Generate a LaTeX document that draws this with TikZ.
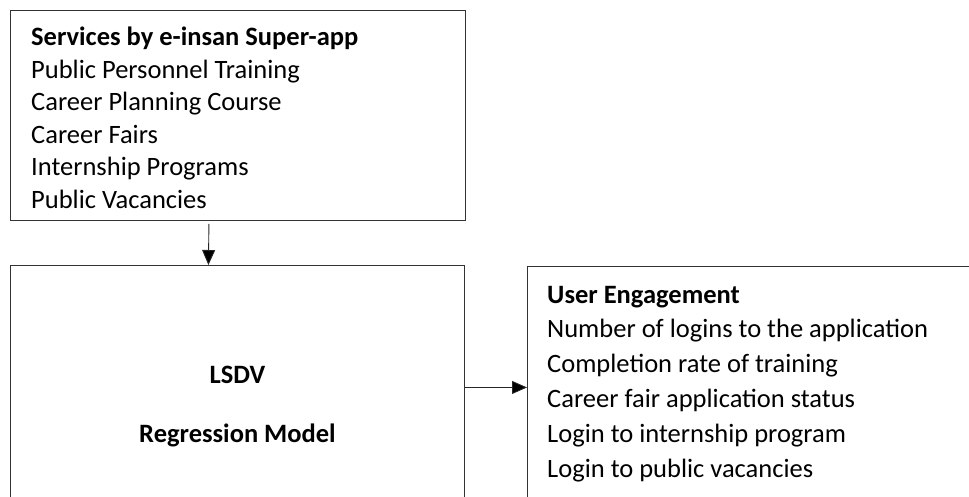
\documentclass[tikz,border=0pt]{standalone}
\usepackage{fontspec}
\setmainfont{Carlito}
\usetikzlibrary{arrows.meta,calc}

\tikzset{
  box/.style={draw=black!80, line width=0.9pt, rectangle, inner sep=0pt, anchor=north west},
  item/.style={inner sep=0pt, anchor=base west, font=\fontsize{26.5}{30}\selectfont},
  head/.style={item, font=\fontsize{26.5}{30}\selectfont\bfseries},
  link/.style={draw=black!85, line width=0.9pt, -{Triangle[length=15pt,width=13pt,fill=black]}}
}

\begin{document}
\begin{tikzpicture}[x=1pt,y=1pt]
  \useasboundingbox (0,0) rectangle (969,-497);
  \clip (0,0) rectangle (969,-497);

  % Boxes
  \node[box, minimum width=455pt, minimum height=210pt] (services) at (10,-10) {};
  \node[box, minimum width=454pt, minimum height=244pt] (model) at (10,-265) {};
  \node[box, minimum width=470pt, minimum height=240pt] (engage) at (527,-266) {};

  % Services of the super-app
  \node[head] (svchead) at ($(services.north west)+(21,-36)$) {Services by e-insan Super-app};
  \foreach \txt [count=\i] in {Public Personnel Training, Career Planning Course, Career Fairs, Internship Programs, Public Vacancies}
    \node[item] (svc\i) at ($(svchead.base west)+(0,{-32.4*\i})$) {\txt};

  % Model
  \node[head, anchor=base] (lsdv) at ($(model.center)+(0,4)$) {LSDV};
  \node[head, anchor=base] (regr) at ($(model.center)+(0,-55)$) {Regression Model};

  % Engagement measures
  \node[head] (enghead) at ($(engage.north west)+(20,-37)$) {User Engagement};
  \foreach \txt [count=\i] in {Number of logins to the application, Completion rate of training, Career fair application status, Login to internship program, Login to public vacancies}
    \node[item] (eng\i) at ($(enghead.base west)+(0,{-34.8*\i})$) {\txt};

  % Connectors
  \draw[link, shorten <=3pt] ([xshift=-29pt]services.south) -- ([xshift=-29pt]model.north);
  \draw[link] (model.east) -- (model.east -| engage.west);
\end{tikzpicture}
\end{document}
